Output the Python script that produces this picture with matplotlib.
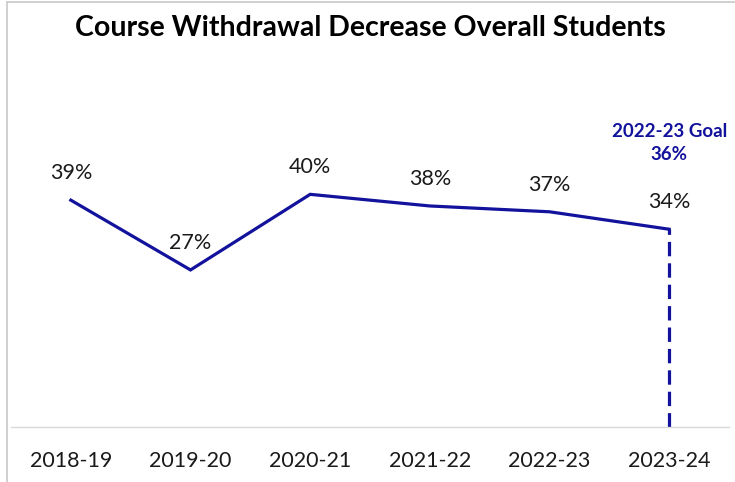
import matplotlib
matplotlib.use("Agg")
from matplotlib import pyplot as plt
from matplotlib.patches import Rectangle

years = ["2018-19", "2019-20", "2020-21", "2021-22", "2022-23", "2023-24"]
withdrawal = [0.39, 0.27, 0.40, 0.38, 0.37, 0.34]
goal_label = "2022-23 Goal"
goal_value = 0.36

navy = "#12129c"
plt.rcParams["font.family"] = ["Lato", "DejaVu Sans"]

fig = plt.figure(figsize=(7.35, 4.82), dpi=100)
# chart border, clipped on the right and bottom like the exported chart
fig.patches.append(Rectangle((7 / 735, -0.1), 1.2, 1 - 2 / 482 + 0.1,
                             transform=fig.transFigure, fill=False,
                             edgecolor="#c8c8c8", linewidth=1.2))

ax = fig.add_axes([11 / 735, 55 / 482, 718 / 735, 349 / 482])
x = list(range(len(years)))
ax.plot(x, withdrawal, color=navy, linewidth=2.3, solid_joinstyle="miter")
ax.set_xlim(-0.5, len(years) - 0.5)
ax.set_ylim(0, 0.6)

for xi, v in zip(x, withdrawal):
    ax.annotate(f"{v:.0%}", (xi, v), xytext=(0, 19.5), textcoords="offset points",
                ha="center", va="center", fontsize=15.5, color="#1a1a1a")

# goal marker on the last year
ax.plot([x[-1], x[-1]], [0, withdrawal[-1]], color=navy, linewidth=2.3,
        linestyle=(0, (4.5, 2.2)))
ax.annotate(f"{goal_label}\n{goal_value:.0%}", (x[-1], withdrawal[-1]),
            xytext=(0, 62), textcoords="offset points", ha="center", va="center",
            fontsize=13.5, fontweight="bold", color=navy, linespacing=1.45)

for side in ["top", "right", "left"]:
    ax.spines[side].set_visible(False)
ax.spines["bottom"].set_color("#d9d9d9")
ax.spines["bottom"].set_linewidth(1)
ax.set_yticks([])
ax.set_xticks(x)
ax.set_xticklabels(years, fontsize=15.5, color="#1a1a1a")
ax.tick_params(axis="x", length=0, pad=17)

fig.text(370 / 735, 1 - 28 / 482, "Course Withdrawal Decrease Overall Students",
         ha="center", va="center", fontsize=20.5, fontweight="bold", color="black")

fig.savefig("out.png", dpi=100)
